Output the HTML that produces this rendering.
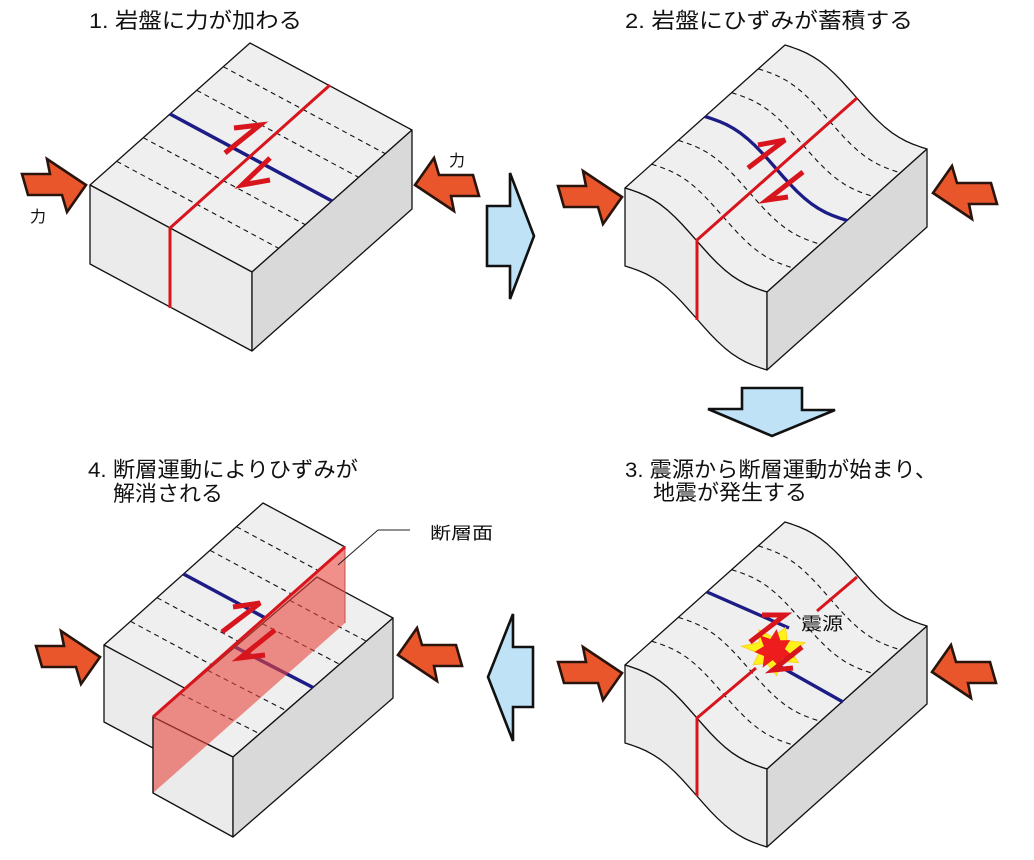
<!DOCTYPE html>
<html><head><meta charset="utf-8">
<style>
html,body{margin:0;padding:0;background:#fff;}
svg{display:block;}
text{font-family:"Liberation Sans","Noto Sans CJK JP",sans-serif;fill:#111;}
</style></head>
<body>
<svg id="s" width="1034" height="860" viewBox="0 0 1034 860">
<rect width="1034" height="860" fill="#fff"/>
<g id="g"></g>
<text x="89" y="28" font-size="21.5" textLength="213" lengthAdjust="spacingAndGlyphs">1. 岩盤に力が加わる</text>
<text x="625" y="28" font-size="21.5" textLength="288" lengthAdjust="spacingAndGlyphs">2. 岩盤にひずみが蓄積する</text>
<text x="625" y="477" font-size="21.5" textLength="312" lengthAdjust="spacingAndGlyphs">3. 震源から断層運動が始まり、</text>
<text x="653" y="500" font-size="21.5" textLength="154" lengthAdjust="spacingAndGlyphs">地震が発生する</text>
<text x="88" y="477" font-size="21.5" textLength="270" lengthAdjust="spacingAndGlyphs">4. 断層運動によりひずみが</text>
<text x="113" y="501" font-size="21.5" textLength="110" lengthAdjust="spacingAndGlyphs">解消される</text>
<text x="30" y="222" font-size="16">力</text>
<text x="449" y="166" font-size="16">力</text>
<text x="430" y="539" font-size="17" textLength="63" lengthAdjust="spacingAndGlyphs">断層面</text>
<g id="top"></g>
<text x="801" y="630" font-size="18" textLength="42" lengthAdjust="spacingAndGlyphs">震源</text>
</svg>
<script>
var out='',top2='';
var TOPC='#efefef',FRONT='#ebebeb',RIGHT='#d9d9d9',RED='#d8141c',BLUE='#1c1c86',ORANGE='#e9562c';
function pts(a){return a.map(function(p){return p[0].toFixed(1)+','+p[1].toFixed(1)}).join(' ');}
function poly(a,fill,extra){out+='<polygon points="'+pts(a)+'" fill="'+fill+'" stroke="#111" stroke-width="1.3" stroke-linejoin="round" '+(extra||'')+'/>';}
function line(a,stroke,w,dash,dest){var s='<polyline points="'+pts(a)+'" fill="none" stroke="'+stroke+'" stroke-width="'+w+'" '+(dash?'stroke-dasharray="'+dash+'"':'')+' stroke-linejoin="round"/>';if(dest)top2+=s;else out+=s;}
function wave(x0,y0,ax,ay){var p=[];for(var i=0;i<=20;i++){var s=i/20;p.push([x0+ax*s,y0+ay*(s-0.09*Math.sin(2*Math.PI*s))]);}return p;}
function half(a,b,c,dest){var s='<polyline points="'+pts([a,b,c])+'" fill="none" stroke="'+RED+'" stroke-width="5" stroke-linejoin="miter" stroke-linecap="butt"/>';if(dest)top2+=s;else out+=s;}
function force(tx,ty,dir){var r=[[0,0],[-19,27],[-24,10],[-58,10],[-64,-11],[-36,-11],[-39,-26]];
 var a=r.map(function(p){return [tx+dir*p[0],ty+dir*p[1]];});
 out+='<polygon points="'+pts(a)+'" fill="'+ORANGE+'" stroke="#2a140c" stroke-width="2.6" stroke-linejoin="miter"/>';}
function bluearrow(a){out+='<polygon points="'+pts(a)+'" fill="#bfe2f6" stroke="#111" stroke-width="2.6" stroke-linejoin="miter"/>';}

/* Panel 1 */
(function(){
 var T=[250,43],A=[162,87],B=[-160,142],H=79;
 var R=[T[0]+A[0],T[1]+A[1]],L=[T[0]+B[0],T[1]+B[1]],F=[L[0]+A[0],L[1]+A[1]];
 poly([T,R,F,L],TOPC);
 poly([L,F,[F[0],F[1]+H],[L[0],L[1]+H]],FRONT);
 poly([F,R,[R[0],R[1]+H],[F[0],F[1]+H]],RIGHT);
 for(var k=1;k<6;k++){var P=[T[0]+B[0]*k/6,T[1]+B[1]*k/6];
  if(k==3) line([P,[P[0]+A[0],P[1]+A[1]]],BLUE,3.5);
  else line([P,[P[0]+A[0],P[1]+A[1]]],'#111',1.1,'5,4');}
 line([[330,85],[170,228],[170,308]],RED,3);
 half([225,153],[260,125],[234,128]);
 half([270,158],[242,185],[270,180]);
 force(86,185,1);force(415,185,-1);
})();

/* Panels 2 & 3 */
function wavy(dy,p3){
 var T=[785,45+dy],A=[142,104],B=[-160,143],H=78;
 var R=[T[0]+A[0],T[1]+A[1]],L=[T[0]+B[0],T[1]+B[1]],F=[L[0]+A[0],L[1]+A[1]];
 var back=wave(T[0],T[1],A[0],A[1]);
 var front=wave(L[0],L[1],A[0],A[1]);
 var bot=wave(L[0],L[1]+H,A[0],A[1]);
 poly(back.concat([F]).concat(front.slice().reverse()),TOPC);
 poly(front.concat(bot.slice().reverse()),FRONT);
 poly([F,R,[R[0],R[1]+H],[F[0],F[1]+H]],RIGHT);
 for(var k=1;k<6;k++){var P=[T[0]+B[0]*k/6,T[1]+B[1]*k/6];
  if(k==3){ if(!p3) line(wave(P[0],P[1],A[0],A[1]),BLUE,3.3);}
  else line(wave(P[0],P[1],A[0],A[1]),'#111',1.1,'5,4');}
 if(!p3){
  line([[857,98],[697,240],[697,320]],RED,3);
  half([748,168],[785,140],[758,145]);
  half([803,172],[767,200],[788,197]);
  force(622,197,1);force(933,193,-1);
 }else{
  line([[707,592],[789,628]],BLUE,3.3);
  line([[772,662],[843,702]],BLUE,3.3);
  line([[857,577],[817,611]],RED,3);
  line([[756,668],[697,718],[697,796]],RED,3);
  var c=[774,650],o=[],ii=[];
  var ro=[31,17,28,16,32,18,27,15,31,17,29,16,30,17];
  for(var i=0;i<ro.length;i++){var an=i/ro.length*2*Math.PI-0.3;var rr=ro[i];o.push([c[0]+rr*Math.cos(an)*1.05,c[1]+rr*Math.sin(an)*0.8]);}
  for(var i=0;i<ro.length;i++){var an=i/ro.length*2*Math.PI-0.1;var rr=ro[(i+3)%ro.length]*0.68;ii.push([c[0]+rr*Math.cos(an),c[1]+rr*Math.sin(an)]);}
  top2+='<polygon points="'+pts(o)+'" fill="#fff21a" stroke="#ffd21a" stroke-width="1"/>';
  top2+='<polygon points="'+pts(ii)+'" fill="#ee1c1c"/>';
  half([750,642],[785,615],[762,615],1);
  half([802,647],[773,670],[793,668],1);
  force(622,673,1);force(932,672,-1);
 }
}
wavy(0,false);wavy(477,true);

/* Panel 4 */
(function(){
 poly([[263,503],[345,547],[153,717],[153,672],[104,645]],TOPC);
 poly([[104,645],[233,714],[233,790],[153,748],[104,722]],FRONT);
 poly([[317,577],[393,618],[233,757],[153,717]],TOPC);
 poly([[153,717],[233,757],[233,837],[153,793]],FRONT);
 poly([[233,757],[393,618],[393,698],[233,837]],RIGHT);
 function hitFault(P){
  var dx=1,dy=0.537,fx=-192,fy=170,qx=345-P[0],qy=547-P[1];
  var det=dx*(-fy)-dy*(-fx); var s=(qx*(-fy)-qy*(-fx))/det; return [P[0]+s*dx,P[1]+s*dy];}
 for(var k=1;k<6;k++){var t=k/6;var P=[263-159*t,503+142*t];var Q=hitFault(P);
  if(k==3) line([P,Q],BLUE,3.5); else line([P,Q],'#111',1.1,'5,4');}
 for(var k=1;k<6;k++){var t=k/6;var P=[317-164*t,577+140*t],Q=[393-160*t,618+139*t];
  if(k==3) line([P,Q],BLUE,3.5); else line([P,Q],'#111',1.1,'5,4');}
 out+='<polygon points="345,547 153,717 153,793 345,623" fill="#e8463c" fill-opacity="0.6" stroke="none"/>';
 line([[153,717],[153,793]],'#111',1.2);
 line([[345,547],[345,623]],'#c85048',1);
 line([[345,547],[153,717]],RED,3);
 half([222,632],[260,603],[233,607]);
 half([275,630],[240,658],[265,655]);
 line([[338,565],[378,530],[410,530]],'#222',1);
 force(100,657,1);force(398,655,-1);
})();

bluearrow([[487,206],[510,206],[510,173],[534,236],[510,299],[510,266],[487,266]]);
bluearrow([[742,388],[802,388],[802,410],[835,410],[772,436],[708,409],[742,409]]);
bluearrow([[533,647],[513,647],[513,614],[488,677],[513,741],[513,707],[533,707]]);

document.getElementById('g').innerHTML=out;
document.getElementById('top').innerHTML=top2;
</script>
</body></html>
